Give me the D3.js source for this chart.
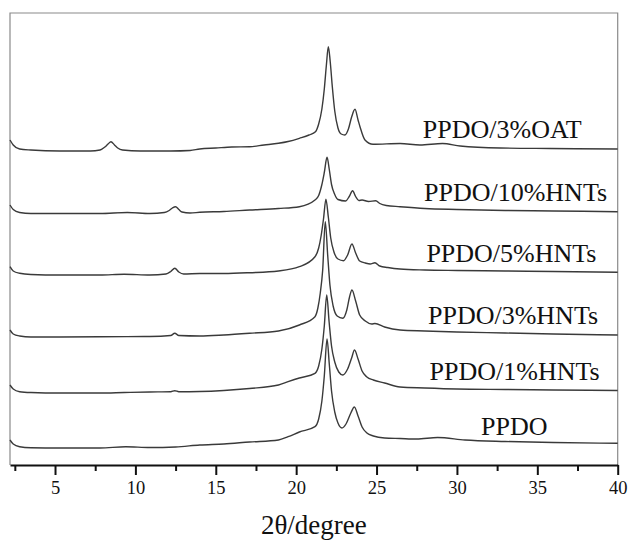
<!DOCTYPE html>
<html>
<head>
<meta charset="utf-8">
<script src="https://cdn.jsdelivr.net/npm/d3@7"></script>
<style>
  body { margin: 0; background: #fff; }
  text { font-family: "Liberation Serif", "Times New Roman", serif; }
</style>
</head>
<body>
<div id="chart"></div>
<script>
// Sample names, bottom to top of the stack
var names = ["PPDO", "PPDO/1%HNTs", "PPDO/3%HNTs", "PPDO/5%HNTs", "PPDO/10%HNTs", "PPDO/3%OAT"];

// vertical offset of each pattern (a.u.)
var offsets = [17, 72, 128, 190, 251.5, 314];

// x tick labels
var majorTicks = [5, 10, 15, 20, 25, 30, 35, 40];
var minorTicks = [2.5, 7.5, 12.5, 17.5, 22.5, 27.5, 32.5, 37.5];

// 2theta (degree) and intensity (a.u., above own baseline)
var ppdo = [
  [2.2, 8], [2.4, 4], [2.8, 1.3], [3.5, 0.3], [5.3, 0], [7.8, 0], [9.4, 1.3], [10.9, 0.5],
  [12.5, 1], [14.0, 3], [15.5, 4], [17.1, 6], [18.9, 8], [19.5, 11.3], [20.2, 16],
  [21.17, 21.3], [21.4, 29], [21.6, 47], [21.75, 72], [21.92, 109], [22.06, 84],
  [22.2, 57], [22.4, 36], [22.6, 25], [22.85, 20], [23.1, 24], [23.4, 35], [23.62, 41],
  [23.85, 32], [24.1, 21], [24.4, 15], [24.8, 12], [25.5, 10], [26.46, 9.5], [27.5, 9],
  [28.8, 10.5], [30.5, 8], [33, 6.5], [36, 5.5], [40, 4.7]
];
var hnt1 = [
  [2.2, 8], [2.4, 4], [2.8, 1.3], [3.5, 0.5], [5.3, 0], [7.8, 0], [9.3, 0.5], [10.9, 1],
  [12.2, 1.3], [12.45, 2.3], [12.7, 1.3], [14.0, 1.5], [15.5, 2.5], [17.1, 4.5], [18.9, 8],
  [19.5, 11.3], [20.2, 15], [21.17, 19.7], [21.4, 27], [21.6, 44], [21.75, 67], [21.9, 98],
  [22.05, 71], [22.2, 47], [22.4, 31], [22.65, 21], [22.9, 18], [23.2, 24], [23.45, 35],
  [23.63, 43], [23.85, 34], [24.1, 22], [24.4, 16], [24.8, 13], [25.5, 10], [26.46, 6],
  [28, 5], [30, 4], [33, 3.5], [36, 3], [40, 2.5]
];
var hnt3 = [
  [2.2, 7], [2.4, 3], [2.8, 1], [3.5, 0], [5.3, 0], [7.8, 0.3], [10.9, 0.5], [12.2, 1.5],
  [12.45, 3.7], [12.7, 1.5], [14.0, 1], [15.5, 2], [17.1, 3.7], [18.9, 6], [20.2, 12],
  [21.17, 20.3], [21.35, 29], [21.5, 44], [21.65, 67], [21.81, 115.3], [21.96, 82],
  [22.1, 52], [22.3, 31], [22.55, 21], [22.9, 18.7], [23.15, 27], [23.32, 40], [23.47, 47],
  [23.7, 36], [23.95, 22], [24.3, 16], [24.7, 13], [24.9, 13.5], [25.5, 10], [26.46, 7],
  [28, 6], [30, 5], [33, 4], [36, 3], [40, 2]
];
var hnt5 = [
  [2.2, 8.3], [2.4, 4], [2.8, 1.7], [3.5, 0.5], [5.3, 0], [7.8, 0], [9.3, 0.8], [10.9, 0],
  [11.9, 1], [12.2, 3.5], [12.45, 6.7], [12.7, 3], [13.0, 1], [14.0, 1.5], [15.5, 1.5],
  [17.1, 2.3], [18.9, 4], [20.2, 8.3], [21.17, 18.3], [21.4, 27], [21.55, 39], [21.7, 56],
  [21.85, 75.7], [22.0, 58], [22.15, 37], [22.35, 23], [22.6, 16], [22.95, 14.3],
  [23.2, 20], [23.47, 31], [23.7, 22], [23.95, 14], [24.3, 12], [24.6, 11], [24.9, 12.3],
  [25.2, 9], [25.7, 7.5], [26.46, 6], [28, 5], [30, 4.5], [33, 4], [36, 3.5], [40, 2.7]
];
var hnt10 = [
  [2.2, 8.5], [2.4, 4], [2.8, 1], [3.5, 0], [5.3, 0], [7.8, 0], [9.5, 1], [10.9, 0],
  [11.8, 1], [12.1, 3], [12.3, 5.5], [12.5, 6.8], [12.7, 4], [12.9, 1.5], [13.4, 0.5],
  [14.0, 1.2], [15.5, 2], [17.1, 3.5], [18.9, 5], [20.2, 6.8], [21.17, 13.5], [21.4, 18],
  [21.6, 29], [21.75, 41], [21.92, 56.2], [22.06, 44], [22.2, 29], [22.4, 19], [22.6, 14],
  [23.08, 12.5], [23.3, 17], [23.51, 22.8], [23.7, 17], [23.9, 13], [24.1, 13.5],
  [24.5, 12], [24.95, 12.8], [25.2, 10], [25.6, 8], [26.46, 6.8], [28, 5], [30, 4],
  [33, 3], [36, 2.5], [40, 1.8]
];
var oat3 = [
  [2.2, 11], [2.4, 6], [2.8, 2], [3.5, 1], [5.3, 0], [7.2, 0], [7.8, 1], [8.1, 4],
  [8.3, 7], [8.48, 9.3], [8.7, 6], [8.9, 3], [9.2, 1], [10.3, 0], [12.2, 0], [13.4, 0.5],
  [14.0, 2], [15.0, 3], [16.0, 4], [17.1, 4.3], [18.0, 6], [18.9, 7.7], [19.5, 9.5],
  [20.2, 12.7], [20.8, 16], [21.2, 19.3], [21.4, 27], [21.6, 42], [21.75, 62], [21.88, 86],
  [22.0, 104.3], [22.12, 89], [22.25, 64], [22.4, 40], [22.6, 23], [22.8, 17], [23.03, 16],
  [23.25, 22], [23.45, 34], [23.66, 41.7], [23.85, 31], [23.97, 24.3], [24.28, 11],
  [24.78, 6.7], [26.46, 7.5], [27.7, 6], [29.1, 7.5], [30.2, 5], [32.7, 3], [35.8, 2.5],
  [40, 2]
];

var series = [ppdo, hnt1, hnt3, hnt5, hnt10, oat3];

// label anchors (degree)
var labelX = [31.5, 28.3, 28.2, 28.1, 27.95, 27.88];

var width = 629, height = 541;
var margin = { top: 13, right: 11.3, bottom: 76, left: 10 };

var svg = d3.select("#chart")
  .append("svg")
  .attr("width", width)
  .attr("height", height);

var x = d3.scaleLinear()
  .domain([2.2, 40])
  .range([margin.left, width - margin.right]);

var y = d3.scaleLinear()
  .domain([0, 452])
  .range([height - margin.bottom, margin.top]);

var plotBottom = height - margin.bottom;

// frame (grey top/left/right)
svg.append("path")
  .attr("d", "M" + x(2.2) + "," + plotBottom + "V" + margin.top + "H" + x(40) + "V" + plotBottom)
  .attr("fill", "none")
  .attr("stroke", "#8a8a8a")
  .attr("stroke-width", 1.2);

var line = d3.line()
  .x(function (d) { return x(d[0]); })
  .y(function (d) { return d[1]; })
  .curve(d3.curveMonotoneX);

series.forEach(function (s, i) {
  var pts = s.map(function (d) { return [d[0], y(d[1] + offsets[i])]; });
  svg.append("path")
    .attr("d", line(pts))
    .attr("fill", "none")
    .attr("stroke", "#3a3a3a")
    .attr("stroke-width", 1.4)
    .attr("stroke-linejoin", "round");

  svg.append("text")
    .attr("x", x(labelX[i]))
    .attr("y", y(offsets[i] + 13))
    .attr("font-size", 26)
    .attr("fill", "#111")
    .text(names[i]);
});

// x axis
var xAxis = svg.append("g")
  .attr("transform", "translate(0," + plotBottom + ")")
  .call(d3.axisBottom(x).tickValues(majorTicks).tickSize(10).tickSizeOuter(0).tickPadding(6));

svg.append("g")
  .attr("transform", "translate(0," + plotBottom + ")")
  .call(d3.axisBottom(x).tickValues(minorTicks).tickSize(6).tickSizeOuter(0).tickFormat(""))
  .select(".domain").remove();

svg.selectAll(".tick line").attr("stroke", "#111").attr("stroke-width", 2);
xAxis.select(".domain").attr("stroke", "#111").attr("stroke-width", 2);
xAxis.selectAll(".tick text")
  .attr("font-size", 18.5)
  .attr("fill", "#111")
  .style("font-family", "Liberation Serif, serif");

// axis title
svg.append("text")
  .attr("x", (x(2.2) + x(40)) / 2)
  .attr("y", 534)
  .attr("text-anchor", "middle")
  .attr("font-size", 27)
  .attr("fill", "#111")
  .text("2θ/degree");
</script>
</body>
</html>
